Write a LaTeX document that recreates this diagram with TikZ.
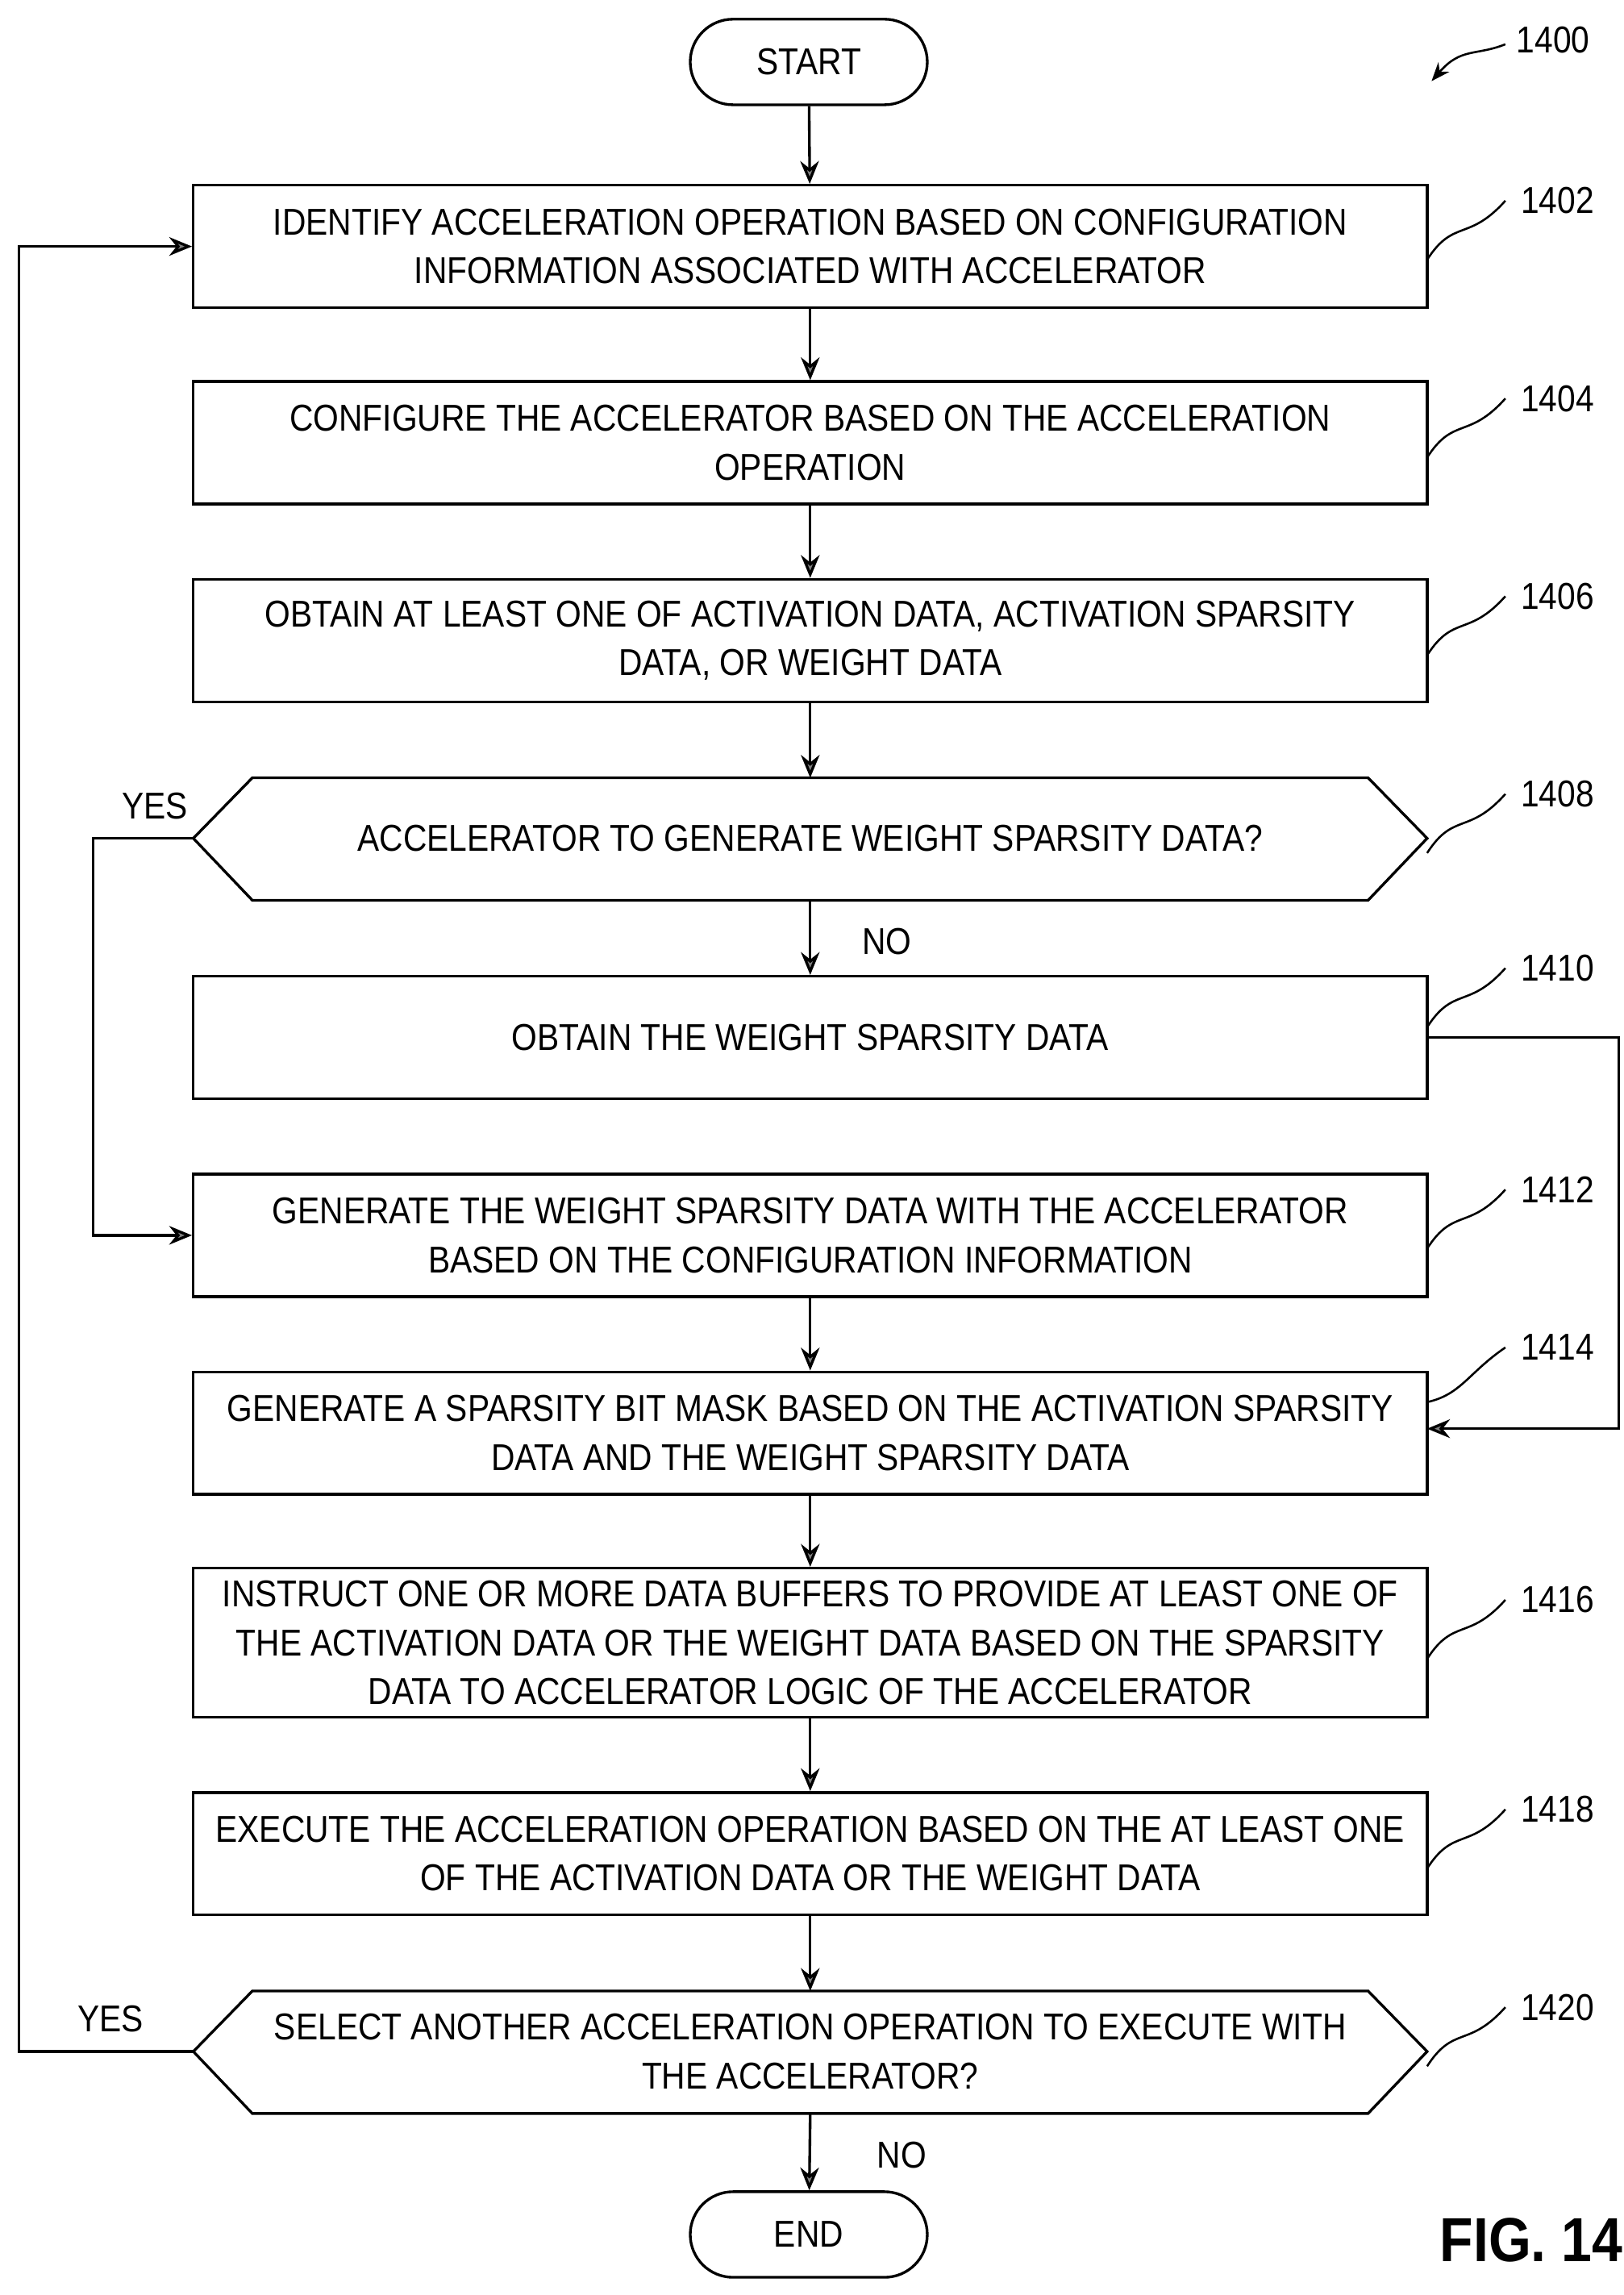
\documentclass[tikz,border=0pt]{standalone}
\usepackage{fontspec}
\setmainfont{Liberation Sans}[FakeStretch=0.88]
\usetikzlibrary{arrows.meta,shapes.misc}
\begin{document}
\begin{tikzpicture}[x=0.025cm,y=-0.025cm,
  line width=1.3pt,
  every node/.style={font=\fontsize{18}{23.5}\selectfont},
  box/.style={draw,minimum width=836*0.025cm,minimum height=83*0.025cm,align=center,inner sep=0pt},
  tall/.style={box,minimum height=101*0.025cm},
  term/.style={draw,rounded rectangle,minimum width=170*0.025cm,minimum height=58*0.025cm},
  arr/.style={-{Stealth[length=11pt,width=9pt,fill=gray]}},
  lab/.style={font=\fontsize{18}{20}\selectfont}]
\useasboundingbox (0,0) rectangle (1100,1555);
\node[term] (start) at (548,42) {START};
\node[box] (b1) at (549,167) {IDENTIFY ACCELERATION OPERATION BASED ON CONFIGURATION\\INFORMATION ASSOCIATED WITH ACCELERATOR};
\node[box] (b2) at (549,300) {CONFIGURE THE ACCELERATOR BASED ON THE ACCELERATION\\OPERATION};
\node[box] (b3) at (549,434) {OBTAIN AT LEAST ONE OF ACTIVATION DATA, ACTIVATION SPARSITY\\DATA, OR WEIGHT DATA};
\draw (131,568) -- (171,527) -- (927,527) -- (967,568) -- (927,610) -- (171,610) -- cycle;
\node (d1) at (549,568) {ACCELERATOR TO GENERATE WEIGHT SPARSITY DATA?};
\coordinate (d1l) at (131,568); \coordinate (d1b) at (549,610);
\node[box] (b4) at (549,703) {OBTAIN THE WEIGHT SPARSITY DATA};
\node[box] (b5) at (549,837) {GENERATE THE WEIGHT SPARSITY DATA WITH THE ACCELERATOR\\BASED ON THE CONFIGURATION INFORMATION};
\node[box] (b6) at (549,971) {GENERATE A SPARSITY BIT MASK BASED ON THE ACTIVATION SPARSITY\\DATA AND THE WEIGHT SPARSITY DATA};
\node[tall] (b7) at (549,1113) {INSTRUCT ONE OR MORE DATA BUFFERS TO PROVIDE AT LEAST ONE OF\\THE ACTIVATION DATA OR THE WEIGHT DATA BASED ON THE SPARSITY\\DATA TO ACCELERATOR LOGIC OF THE ACCELERATOR};
\node[box] (b8) at (549,1256) {EXECUTE THE ACCELERATION OPERATION BASED ON THE AT LEAST ONE\\OF THE ACTIVATION DATA OR THE WEIGHT DATA};
\draw (131,1390) -- (171,1349) -- (927,1349) -- (967,1390) -- (927,1432) -- (171,1432) -- cycle;
\node[align=center] (d2) at (549,1390) {SELECT ANOTHER ACCELERATION OPERATION TO EXECUTE WITH\\THE ACCELERATOR?};
\coordinate (d2l) at (131,1390); \coordinate (d2t) at (549,1349); \coordinate (d2b) at (549,1432); \coordinate (d1t) at (549,527);
\node[term] (end) at (548,1514) {END};
\draw[arr] (start) -- (b1);
\draw[arr] (b1) -- (b2);
\draw[arr] (b2) -- (b3);
\draw[arr] (b3) -- (d1t);
\draw[arr] (d1b) -- (b4);
\draw[arr] (b5) -- (b6);
\draw[arr] (b6) -- (b7);
\draw[arr] (b7) -- (b8);
\draw[arr] (b8) -- (d2t);
\draw[arr] (d2b) -- (end);
\draw[arr] (d1l) -- (63,568) -- (63,837) -- (b5.west);
\draw[arr] (d2l) -- (13,1390) -- (13,167) -- (b1.west);
\coordinate (in6) at (967,968);
\draw[arr] (b4.east) -- (1097,703) -- (1097,968) -- (in6);
\node at (105,546) {YES};
\node at (75,1368) {YES};
\node at (601,638) {NO};
\node at (611,1460) {NO};
\foreach \y/\t in {136/1402,270/1404,404/1406,538/1408,656/1410,806/1412,913/1414,1084/1416,1226/1418,1360/1420}{
  \node[lab,anchor=west] at (1025,\y) {\t};
}
\foreach \y in {136,270,404,538,656,806,1084,1226,1360}{
  \draw[line width=1pt] (967,\y+40) .. controls (985,\y+12) and (995,\y+28) .. (1020,\y);
}
\draw[line width=1pt] (967,950) .. controls (990,945) and (995,930) .. (1020,913);
\node[lab,anchor=west] at (1022,27) {1400};
\draw[line width=1pt,-{Stealth[length=9pt,width=7pt]}] (1020,30) .. controls (1000,38) and (990,32) .. (970,55);
\node[anchor=west,font=\fontsize{30}{30}\bfseries] at (970,1518) {FIG. 14};
\end{tikzpicture}
\end{document}
